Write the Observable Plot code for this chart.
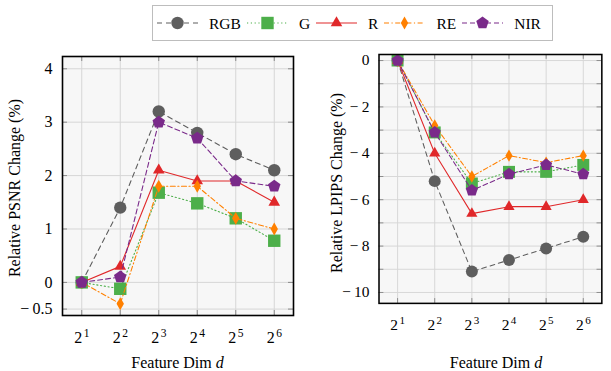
<!DOCTYPE html>
<html>
<head>
<meta charset="utf-8">
<script src="https://cdn.jsdelivr.net/npm/d3@7"></script>
<script src="https://cdn.jsdelivr.net/npm/@observablehq/plot@0.6"></script>
<style>
  html, body { margin: 0; padding: 0; }
  body { width: 611px; height: 371px; overflow: hidden; position: relative; background: #fff; font-family: "Liberation Serif", "DejaVu Serif", serif; color: #000; }
  #left, #right { position: absolute; top: 0; }
  #left { left: 0; }
  #right { left: 311px; }
  svg text { font-family: "Liberation Serif", serif; }
  .xtitle { position: absolute; font-size: 16px; line-height: 16px; white-space: nowrap; transform: translateX(-50%); }
  .ytitle { position: absolute; font-size: 16px; line-height: 16px; white-space: nowrap; transform: translate(-50%, -50%) rotate(-90deg); }
  #legend { position: absolute; left: 152px; top: 5px; width: 401px; height: 36px; box-sizing: border-box; border: 1.5px solid #bdbdbd; background: #fff; display: flex; align-items: center; padding-left: 4px; font-size: 15.5px; font-family: "Liberation Serif", serif; }
  #legend .item { display: flex; align-items: center; }
  #legend svg { display: block; margin-right: 11px; }
  #legend span { margin-right: 6px; line-height: 15px; }
</style>
</head>
<body>
<div id="legend"></div>
<div id="left"></div>
<div id="right"></div>
<div class="xtitle" style="left:177.5px; top:355px;">Feature Dim <i>d</i></div>
<div class="xtitle" style="left:496px; top:355px;">Feature Dim <i>d</i></div>
<div class="ytitle" style="left:15px; top:188px;">Relative PSNR Change (%)</div>
<div class="ytitle" style="left:337px; top:183px;">Relative LPIPS Change (%)</div>
<script>
// ---------- data ----------
const dims = [2, 4, 8, 16, 32, 64];
const xTickBase = "2";
const xTickExp = ["1", "2", "3", "4", "5", "6"];
const seriesNames = ["RGB", "G", "R", "RE", "NIR"];

// Relative PSNR change (%)
const psnrRGB = [0, 1.4, 3.2, 2.8, 2.4, 2.1];
const psnrG   = [0, -0.12, 1.68, 1.48, 1.2, 0.78];
const psnrR   = [0, 0.3, 2.1, 1.9, 1.9, 1.5];
const psnrRE  = [0, -0.4, 1.8, 1.8, 1.2, 1.0];
const psnrNIR = [0, 0.1, 3.0, 2.7, 1.9, 1.8];

// Relative LPIPS change (%)
const lpipsRGB = [0, -5.2, -9.1, -8.6, -8.1, -7.6];
const lpipsG   = [0, -3.1, -5.3, -4.8, -4.8, -4.5];
const lpipsR   = [0, -4.0, -6.6, -6.3, -6.3, -6.0];
const lpipsRE  = [0, -2.8, -5.0, -4.1, -4.4, -4.1];
const lpipsNIR = [0, -3.1, -5.6, -4.9, -4.5, -4.9];

// ticks
const psnrTicks = [-0.5, 0, 1, 2, 3, 4];
const psnrTickLabels = ["\u2212\u20090.5", "0", "1", "2", "3", "4"];
const lpipsGrid = [0, -1, -2, -3, -4, -5, -6, -7, -8, -9, -10];
const lpipsTicks = [0, -2, -4, -6, -8, -10];
const lpipsTickLabels = ["0", "\u2212\u20092", "\u2212\u20094", "\u2212\u20096", "\u2212\u20098", "\u2212\u200910"];

// ---------- styles ----------
const FONT = "Liberation Serif";
const pentagon = {
  draw(ctx, size) {
    const r = Math.sqrt(size / 2.3776);
    for (let k = 0; k < 5; k++) {
      const a = -Math.PI / 2 + k * 2 * Math.PI / 5;
      const x = r * Math.cos(a), y = r * Math.sin(a);
      if (k) ctx.lineTo(x, y); else ctx.moveTo(x, y);
    }
    ctx.closePath();
  }
};
const colors = ["#5e5e5e", "#4daf4a", "#e0282a", "#ff8000", "#7a2a8a"];
const dashes = ["5,4", "1.2,2.6", null, "5,2.5,1.2,2.5", "5,3"];
const symbols = ["circle", "square", "triangle", "diamond", pentagon];
const d3symbols = [d3.symbolCircle, d3.symbolSquare, d3.symbolTriangle, d3.symbolDiamond, pentagon];
const radii = [6.2, 7.0, 4.3, 3.9, 5.7];

const H = 371;

function makeChart(vals, opts) {
  const {width, mL, mR, mT, mB, yDomain, yGrid, yTicks, yLabels} = opts;
  const innerH = H - mT - mB;
  const innerW = width - mL - mR;
  const gridColor = "#d6d6d6";
  const tickColor = "#8a8a8a";
  const marks = [
    Plot.frame({fill: "#f7f7f7", stroke: null}),
    Plot.ruleX(dims, {x: d => d, stroke: gridColor, strokeWidth: 1}),
    Plot.ruleY(yGrid, {y: d => d, stroke: gridColor, strokeWidth: 1}),
    Plot.tickX(dims, {x: d => d, stroke: tickColor, insetTop: innerH - 5}),
    Plot.tickX(dims, {x: d => d, stroke: tickColor, insetBottom: innerH - 5}),
    Plot.tickY(yGrid, {y: d => d, stroke: tickColor, insetLeft: innerW - 5}),
    Plot.tickY(yGrid, {y: d => d, stroke: tickColor, insetRight: innerW - 5})
  ];
  seriesNames.forEach((s, i) => {
    const data = vals[i].map((v, j) => ({series: s, dim: dims[j], v}));
    marks.push(Plot.line(data, {x: "dim", y: "v", stroke: colors[i], strokeWidth: 1.1, strokeDasharray: dashes[i]}));
    marks.push(Plot.dot(data, {x: "dim", y: "v", fill: colors[i], symbol: symbols[i], r: radii[i]}));
  });
  marks.push(Plot.frame({stroke: "#000", strokeWidth: 1.6}));
  // x tick labels: 2^k
  marks.push(Plot.text(xTickExp, {x: (d, i) => dims[i], frameAnchor: "bottom", text: () => xTickBase, dy: 22, dx: -3.5, fontSize: 16, fontFamily: FONT, lineAnchor: "middle", textAnchor: "middle"}));
  marks.push(Plot.text(xTickExp, {x: (d, i) => dims[i], frameAnchor: "bottom", text: d => d, dy: 17.5, dx: 4.8, fontSize: 11.5, fontFamily: FONT, lineAnchor: "middle", textAnchor: "middle"}));
  // y tick labels
  marks.push(Plot.text(yTicks, {y: d => d, frameAnchor: "left", text: (d, i) => yLabels[i], dx: -10, fontSize: 16, fontFamily: FONT, lineAnchor: "middle", textAnchor: "end"}));

  return Plot.plot({
    width, height: H,
    marginLeft: mL, marginRight: mR, marginTop: mT, marginBottom: mB,
    x: {type: "log", base: 2, domain: [2 ** 0.5, 2 ** 6.5], axis: null},
    y: {domain: yDomain, axis: null},
    style: {fontFamily: FONT, fontSize: "16px", background: "transparent", color: "#000", overflow: "visible"},
    marks
  });
}

document.getElementById("left").appendChild(makeChart(
  [psnrRGB, psnrG, psnrR, psnrRE, psnrNIR],
  {width: 305, mL: 62, mR: 12, mT: 56, mB: 56, yDomain: [-0.62, 4.23], yGrid: psnrTicks, yTicks: psnrTicks, yLabels: psnrTickLabels}
));
document.getElementById("right").appendChild(makeChart(
  [lpipsRGB, lpipsG, lpipsR, lpipsRE, lpipsNIR],
  {width: 311, mL: 70, mR: 10, mT: 56, mB: 57, yDomain: [-10.47, 0.26], yGrid: lpipsGrid, yTicks: lpipsTicks, yLabels: lpipsTickLabels}
));

// ---------- legend ----------
const legend = d3.select("#legend");
seriesNames.forEach((s, i) => {
  const item = legend.append("div").attr("class", "item");
  const svg = item.append("svg").attr("width", 41).attr("height", 16);
  svg.append("line").attr("x1", 0).attr("x2", 41).attr("y1", 8).attr("y2", 8)
    .attr("stroke", colors[i]).attr("stroke-width", 1.1)
    .attr("stroke-dasharray", dashes[i]);
  const r = radii[i];
  svg.append("path").attr("transform", "translate(20.5,8)")
    .attr("d", d3.symbol(d3symbols[i], r * r * Math.PI)())
    .attr("fill", colors[i]);
  item.append("span").text(s);
});
</script>
</body>
</html>
